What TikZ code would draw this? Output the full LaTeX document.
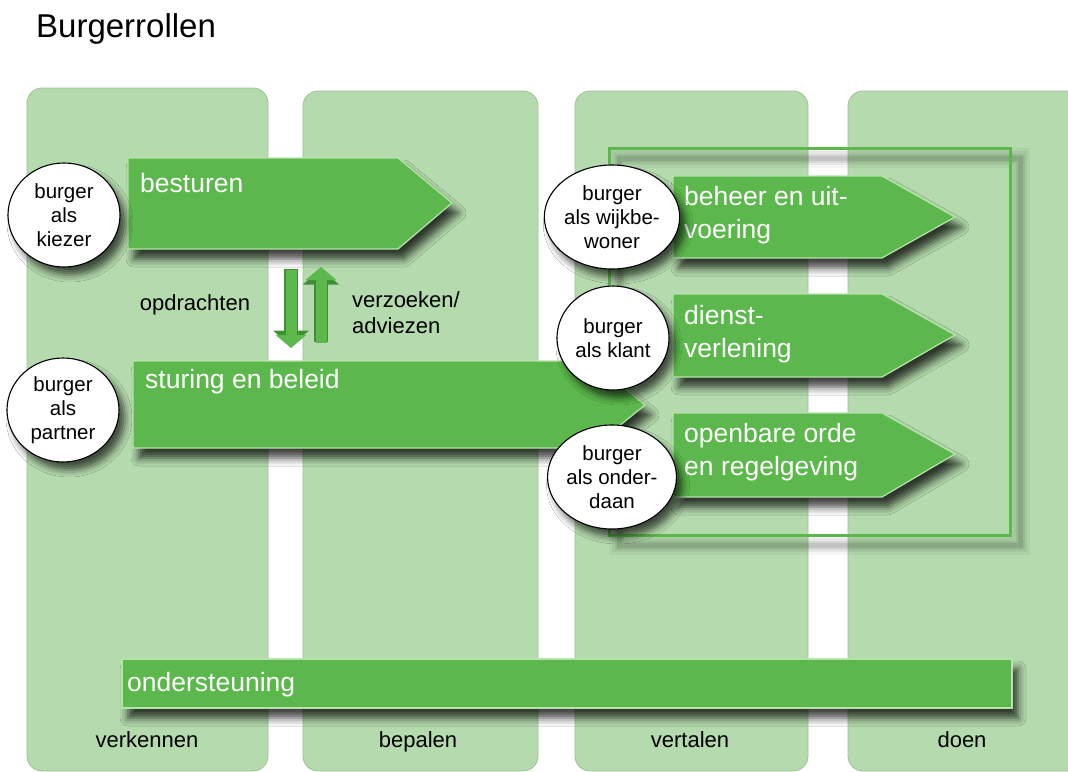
\documentclass[tikz,border=0pt]{standalone}
\usepackage{fontspec}
\setmainfont{Liberation Sans}
\usetikzlibrary{shapes.geometric,shadows.blur,arrows.meta}
\definecolor{colbg}{HTML}{B4DAAD}
\definecolor{colln}{HTML}{9EC298}
\definecolor{arrg}{HTML}{5CB84C}
\definecolor{arredge}{HTML}{B6E3AA}
\definecolor{arrdark}{HTML}{3F8F33}
\newcommand{\mytwolines}[2]{\vtop{\hbox{#1}\hbox{#2}}}
\begin{document}
\begin{tikzpicture}[x=1pt,y=-1pt,
  colbox/.style={fill=colbg,draw=colln,line width=0.8pt,rounded corners=15pt},
  arrowbox/.style={fill=arrg,draw=arredge,line width=1.2pt,
     blur shadow={shadow xshift=6pt,shadow yshift=-10pt,shadow blur radius=8pt,shadow opacity=75}},
  atext/.style={text=white,font=\fontsize{26.5}{33}\selectfont,inner sep=0pt},
  circ/.style={ellipse,fill=white,draw=black,line width=1.1pt,minimum width=112pt,minimum height=104pt,
     inner sep=0pt,align=center,font=\fontsize{20.5}{24}\selectfont,
     blur shadow={shadow xshift=6pt,shadow yshift=-8pt,shadow blur radius=7pt,shadow opacity=65}},
  lbl/.style={font=\fontsize{22}{26}\selectfont,inner sep=0pt},
  connout/.style={arrdark,line width=14pt,-{Triangle[width=35pt,length=16pt]}},
  connin/.style={arrg,line width=11pt,-{Triangle[width=30pt,length=13pt]}}
]
\useasboundingbox (0,0) rectangle (1068,771);
\fill[white] (0,0) rectangle (1068,771);

% columns
\draw[colbox] (27,88) rectangle (268,771);
\draw[colbox] (303,91) rectangle (538,771);
\draw[colbox] (575,91) rectangle (808,771);
\draw[colbox] (848,91) rectangle (1110,771);

% title
\node[anchor=base west,font=\fontsize{33}{40}\selectfont,inner sep=0pt] (title) at (36,37) {Burgerrollen};

% outline frame with soft shadow
\foreach \w/\o in {20/0.04,14/0.05,9/0.07,5/0.09}
  \draw[black,opacity=\o,line width=\w pt] (619,158) rectangle (1020,545);
\draw[arrg,line width=3pt] (609,148) rectangle (1010,535);

% arrows
\path[arrowbox] (128,158) -- (398,158) -- (452,203) -- (398,249) -- (128,249) -- cycle;
\path[arrowbox] (133,361) -- (592,361) -- (645,405) -- (592,448) -- (133,448) -- cycle;
\path[arrowbox] (673,176) -- (882,176) -- (955,217) -- (882,258) -- (673,258) -- cycle;
\path[arrowbox] (673,294) -- (882,294) -- (955,335) -- (882,377) -- (673,377) -- cycle;
\path[arrowbox] (673,413) -- (882,413) -- (955,454) -- (882,497) -- (673,497) -- cycle;
\path[arrowbox] (122,659) rectangle (1012,708);

% arrow texts
\node[atext,anchor=base west] (besturen) at (140,192) {besturen};
\node[atext,anchor=base west] (sturing) at (145,388) {sturing en beleid};
\node[atext,anchor=base west] (beheer) at (684,205) {\mytwolines{beheer en uit-}{voering}};
\node[atext,anchor=base west] (dienst) at (684,324) {\mytwolines{dienst-}{verlening}};
\node[atext,anchor=base west] (openbaar) at (684,442) {\mytwolines{openbare orde}{en regelgeving}};
\node[atext,anchor=base west] (onderst) at (127,691) {ondersteuning};

% connectors between besturen and sturing
\coordinate (dnA) at (291,270);
\coordinate (dnB) at (291,348);
\coordinate (upA) at (321,343);
\coordinate (upB) at (321,267);
\draw[connout] ([yshift=1pt]dnA) -- ([yshift=1.5pt]dnB);
\draw[connin] (dnA) -- (dnB);
\draw[connout] ([yshift=1pt]upA) -- ([yshift=-1.5pt]upB);
\draw[connin] (upA) -- (upB);

% labels
\node[lbl,anchor=base] (opdr) at (195,310) {opdrachten};
\node[lbl,anchor=base west] (verz) at (352,307) {\mytwolines{verzoeken/}{adviezen}};

% circles
\node[circ] (kiezer) at (64,215) {burger\\als\\kiezer};
\node[circ] (partner) at (63,410) {burger\\als\\partner};
\node[circ] (wijk) at (612,217) {burger\\als wijkbe-\\woner};
\node[circ] (klant) at (613,338) {burger\\als klant};
\node[circ] (onderdaan) at (612,477) {burger\\als onder-\\daan};

% phase labels
\node[lbl,anchor=base] (verk) at (147,747) {verkennen};
\node[lbl,anchor=base] (bep) at (418,747) {bepalen};
\node[lbl,anchor=base] (vert) at (690,747) {vertalen};
\node[lbl,anchor=base] (doen) at (962,747) {doen};
\end{tikzpicture}
\end{document}
